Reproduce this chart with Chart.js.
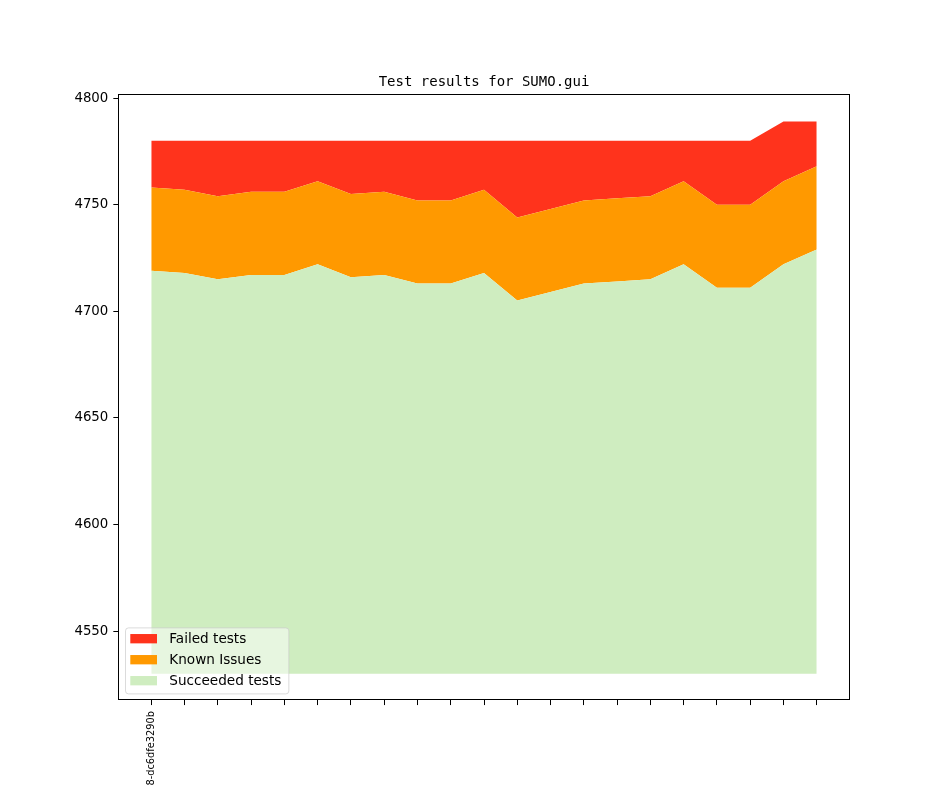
<!DOCTYPE html>
<html>
<head>
<meta charset="utf-8">
<script src="https://cdn.jsdelivr.net/npm/chart.js@4/dist/chart.umd.min.js"></script>
<style>
  html, body { margin: 0; padding: 0; background: #fff; }
  #wrap { width: 944px; height: 787px; }
</style>
</head>
<body>
<div id="wrap"><canvas id="myChart" width="944" height="787"></canvas></div>
<script>
// commits on the x axis, only the first one is labelled
const labels = ['8-dc6dfe3290b', '', '', '', '', '', '', '', '', '', '',
                '', '', '', '', '', '', '', '', '', '']
const succeeded = [4719, 4718, 4715, 4717, 4717, 4722, 4716, 4717, 4713, 4713, 4718,
                   4705, 4709, 4713, 4714, 4715, 4722, 4711, 4711, 4722, 4729]
const knownIssues = [39, 39, 39, 39, 39, 39, 39, 39, 39, 39, 39,
                     39, 39, 39, 39, 39, 39, 39, 39, 39, 39]
const failed = [22, 23, 26, 24, 24, 19, 25, 24, 28, 28, 23,
                36, 32, 28, 27, 26, 19, 30, 30, 28, 21]
const floor = 4530
const yTicks = [4550, 4600, 4650, 4700, 4750, 4800]
// axis range
const yRange = [4517.5, 4801.9]

const colors = {
    failed: '#ff331c',
    known: '#ff9900',
    succeeded: '#cfedc0'
}

// running tops of the three bands
const knownTop = succeeded.map((v, i) => v + knownIssues[i])
const failedTop = knownTop.map((v, i) => v + failed[i])
const pts = arr => arr.map((y, i) => ({ x: i, y: y }))

const tickFont = { family: 'DejaVu Sans', size: 13.33 }

const framePlugin = {
    id: 'frame',
    afterDraw(chart) {
        const ctx = chart.ctx
        const a = chart.chartArea
        ctx.save()
        // spines
        ctx.strokeStyle = '#000'
        ctx.lineWidth = 1
        ctx.strokeRect(Math.round(a.left) + 0.5, Math.round(a.top) + 0.5,
                       Math.round(a.right - a.left) - 1, Math.round(a.bottom - a.top) - 1)

        // title
        ctx.fillStyle = '#000'
        ctx.font = '14px "DejaVu Sans Mono"'
        ctx.textAlign = 'center'
        ctx.textBaseline = 'alphabetic'
        ctx.fillText('Test results for SUMO.gui', (a.left + a.right) / 2, a.top - 8)

        // legend, lower left
        const items = [
            ['Failed tests', colors.failed],
            ['Known Issues', colors.known],
            ['Succeeded tests', colors.succeeded]
        ]
        ctx.font = '13.6px "DejaVu Sans"'
        const textW = Math.max(...items.map(it => ctx.measureText(it[0]).width))
        const w = 5.3 + 26.7 + 12.3 + textW + 7
        const h = 66
        const x0 = a.left + 7
        const y0 = a.bottom - 7 - h
        ctx.beginPath()
        ctx.roundRect(x0 + 0.5, y0 + 0.5, w, h, 3)
        ctx.fillStyle = 'rgba(255,255,255,0.5)'
        ctx.fill()
        ctx.strokeStyle = 'rgba(204,204,204,0.7)'
        ctx.stroke()
        ctx.textAlign = 'left'
        ctx.textBaseline = 'middle'
        items.forEach((it, i) => {
            const cy = y0 + 11.3 + i * 21
            ctx.fillStyle = it[1]
            ctx.fillRect(x0 + 5.3, cy - 4.67, 26.7, 9.33)
            ctx.fillStyle = '#000'
            ctx.fillText(it[0], x0 + 5.3 + 26.7 + 12.3, cy + 1)
        })
        ctx.restore()
    }
}

const context = document.getElementById('myChart').getContext('2d')
const myChart = new Chart(context, {
    type: 'line',
    data: {
        datasets: [
            {
                label: 'Succeeded tests',
                data: pts(succeeded),
                backgroundColor: colors.succeeded,
                borderWidth: 0,
                pointRadius: 0,
                fill: { value: floor }
            },
            {
                label: 'Known Issues',
                data: pts(knownTop),
                backgroundColor: colors.known,
                borderWidth: 0,
                pointRadius: 0,
                fill: '-1'
            },
            {
                label: 'Failed tests',
                data: pts(failedTop),
                backgroundColor: colors.failed,
                borderWidth: 0,
                pointRadius: 0,
                fill: '-1'
            }
        ]
    },
    options: {
        responsive: false,
        animation: false,
        devicePixelRatio: 1,
        layout: { padding: { left: 0, top: 94, right: 94, bottom: 0 } },
        plugins: {
            legend: { display: false },
            title: { display: false },
            tooltip: { enabled: false }
        },
        elements: { line: { tension: 0 } },
        scales: {
            x: {
                type: 'linear',
                min: -1,
                max: labels.length,
                afterBuildTicks(scale) {
                    scale.ticks = labels.map((l, i) => ({ value: i }))
                },
                afterFit(scale) { scale.height = 86.6 },
                grid: {
                    display: true,
                    drawOnChartArea: false,
                    drawTicks: true,
                    tickLength: 4.67,
                    color: '#000'
                },
                border: { display: false },
                ticks: {
                    autoSkip: false,
                    minRotation: 90,
                    maxRotation: 90,
                    padding: 6,
                    color: '#000',
                    font: { family: 'DejaVu Sans', size: 9.8 },
                    callback: v => labels[v]
                }
            },
            y: {
                min: yRange[0],
                max: yRange[1],
                afterBuildTicks(scale) {
                    scale.ticks = yTicks.map(v => ({ value: v }))
                },
                afterFit(scale) { scale.width = 118 },
                grid: {
                    display: true,
                    drawOnChartArea: false,
                    drawTicks: true,
                    tickLength: 4.67,
                    color: '#000'
                },
                border: { display: false },
                ticks: {
                    padding: 5,
                    color: '#000',
                    font: tickFont,
                    callback: v => String(v)
                }
            }
        }
    },
    plugins: [framePlugin]
})
</script>
</body>
</html>
